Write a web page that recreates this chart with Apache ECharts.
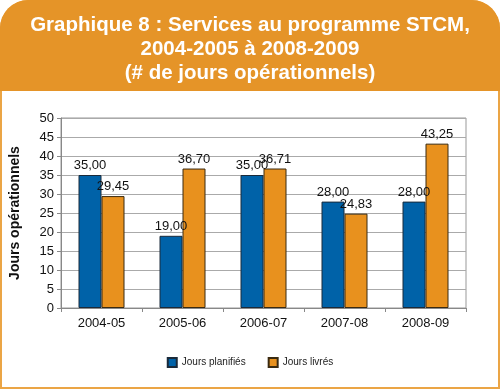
<!DOCTYPE html>
<html><head><meta charset="utf-8">
<script src="https://cdn.jsdelivr.net/npm/echarts@6/dist/echarts.min.js"></script>
<style>html,body{margin:0;padding:0;background:#fff}#c{width:500px;height:389px}</style>
</head><body><div id="c"></div>
<script>
var categories = ['2004-05','2005-06','2006-07','2007-08','2008-09'];
var joursPlanifies = [35.00, 19.00, 35.00, 28.00, 28.00];
var joursLivres = [29.45, 36.70, 36.71, 24.83, 43.25];
var yTicks = [0,5,10,15,20,25,30,35,40,45,50];
var seriesNames = ['Jours planifiés','Jours livrés'];

var FONT = '"Liberation Sans",Arial,sans-serif';
var fmt = function(p){ return p.value.toFixed(2).replace('.', ','); };
var chart = echarts.init(document.getElementById('c'), null, {renderer:'canvas'});
chart.setOption({
  animation:false,
  graphic:[
    {type:'rect', z:-10, shape:{x:1,y:1,width:498,height:387,r:[28,28,0,0]}, style:{fill:'#fff',stroke:'#EBA545',lineWidth:2}},
    {type:'rect', z:-9, shape:{x:0,y:0,width:500,height:91,r:[28,28,0,0]}, style:{fill:'#E59428'}}
  ],
  title:{
    text:'Graphique 8 : Services au programme STCM,\n2004-2005 à 2008-2009\n(# de jours opérationnels)',
    left:'center', top:8,
    textStyle:{color:'#fff', fontSize:20.5, fontWeight:'bold', lineHeight:24, fontFamily:FONT}
  },
  legend:{
    data:seriesNames, bottom:16, left:'center', itemWidth:9, itemHeight:9, itemGap:22,
    textStyle:{fontSize:10, color:'#222', fontFamily:FONT},
    icon:'rect'
  },
  grid:{left:61, right:34, top:118, bottom:81, show:true, borderColor:'#999', borderWidth:1},
  xAxis:{
    type:'category', data:categories,
    axisLine:{lineStyle:{color:'#888'}},
    axisTick:{show:true, length:4, lineStyle:{color:'#888'}},
    axisLabel:{fontSize:13, color:'#111', margin:9, fontFamily:FONT}
  },
  yAxis:{
    type:'value', min:0, max:50, interval:5,
    name:'Jours opérationnels', nameLocation:'middle', nameGap:39, nameRotate:90,
    nameTextStyle:{fontSize:14, fontWeight:'bold', color:'#111', fontFamily:FONT},
    axisLine:{show:true, lineStyle:{color:'#888'}},
    axisTick:{show:true, length:4, lineStyle:{color:'#888'}},
    axisLabel:{fontSize:13, color:'#111', margin:7, fontFamily:FONT,
      customValues:yTicks},
    splitLine:{lineStyle:{color:'#aaa'}}
  },
  series:[
    {name:seriesNames[0], type:'bar', data:joursPlanifies, barWidth:23, barGap:'0%',
     itemStyle:{color:'#0062A8', borderColor:'#1a2a3a', borderWidth:1},
     label:{show:true, position:'top', distance:3, formatter:fmt, fontSize:13, color:'#111', fontFamily:FONT}},
    {name:seriesNames[1], type:'bar', data:joursLivres, barWidth:23,
     itemStyle:{color:'#E8911E', borderColor:'#3a2a10', borderWidth:1},
     label:{show:true, position:'top', distance:3, formatter:fmt, fontSize:13, color:'#111', fontFamily:FONT}}
  ]
});
</script></body></html>
